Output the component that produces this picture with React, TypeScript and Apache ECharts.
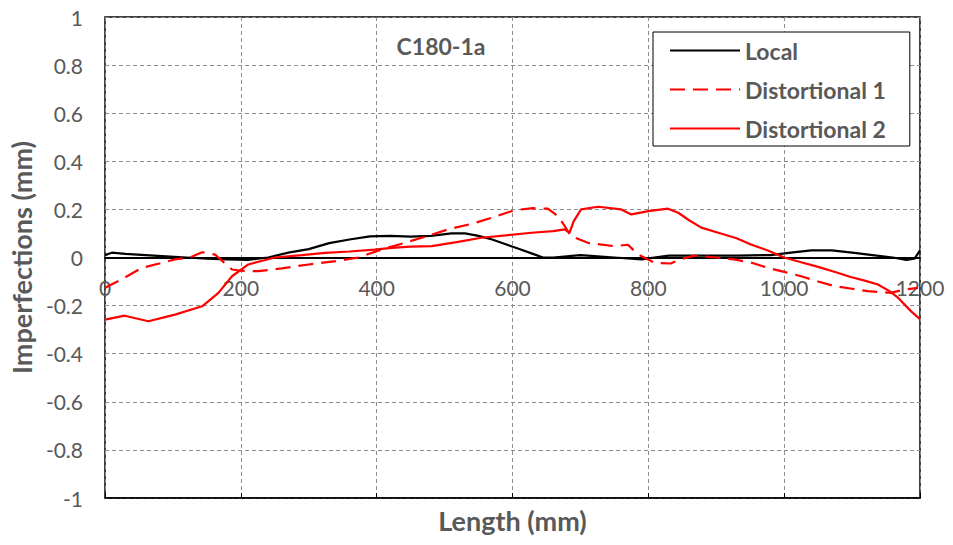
import React, { useEffect, useRef } from "react";
import * as echarts from "echarts";

const xTicks = [0, 200, 400, 600, 800, 1000, 1200];
const yTicks = [-1, -0.8, -0.6, -0.4, -0.2, 0, 0.2, 0.4, 0.6, 0.8, 1];

const localX = [0, 10, 30, 60, 90, 120, 150, 180, 210, 240, 270, 300, 330, 360, 390, 420, 450, 480, 510, 530, 550, 570, 590, 610, 630, 645, 660, 700, 750, 790, 830, 880, 930, 980, 1010, 1040, 1070, 1100, 1130, 1160, 1180, 1192, 1200];
const localY = [0.01, 0.02, 0.015, 0.01, 0.005, 0.0, -0.005, -0.008, -0.01, 0.0, 0.02, 0.035, 0.06, 0.075, 0.088, 0.09, 0.087, 0.09, 0.1, 0.1, 0.09, 0.075, 0.055, 0.035, 0.015, 0.0, 0.0, 0.01, 0.0, -0.008, 0.008, 0.008, 0.008, 0.01, 0.02, 0.03, 0.03, 0.02, 0.01, 0.0, -0.01, -0.005, 0.03];

const dist1X = [0, 25, 54, 80, 103, 125, 143, 162, 175, 187, 200, 226, 260, 300, 340, 373, 407, 440, 470, 505, 540, 569, 603, 630, 652, 667, 677, 686, 711, 750, 770, 785, 809, 833, 850, 868, 900, 926, 950, 976, 1000, 1025, 1050, 1074, 1100, 1123, 1157, 1177, 1197];
const dist1Y = [-0.126, -0.09, -0.043, -0.025, -0.008, 0.0, 0.022, 0.012, -0.02, -0.05, -0.055, -0.057, -0.045, -0.029, -0.015, 0.0, 0.033, 0.06, 0.085, 0.117, 0.14, 0.165, 0.197, 0.205, 0.203, 0.172, 0.13, 0.089, 0.061, 0.047, 0.053, 0.0125, -0.022, -0.025, -0.005, 0.008, 0.0, -0.008, -0.02, -0.043, -0.06, -0.078, -0.1, -0.119, -0.13, -0.14, -0.147, -0.133, -0.126];

const dist2X = [0, 29, 64, 103, 143, 167, 187, 211, 250, 290, 324, 360, 397, 422, 450, 481, 520, 554, 590, 628, 660, 677, 684, 690, 701, 726, 760, 775, 800, 829, 844, 860, 878, 903, 930, 951, 975, 1000, 1025, 1050, 1075, 1098, 1120, 1138, 1155, 1168, 1187, 1200];
const dist2Y = [-0.258, -0.242, -0.265, -0.2375, -0.203, -0.147, -0.078, -0.029, 0.0, 0.01, 0.019, 0.025, 0.033, 0.04, 0.045, 0.047, 0.065, 0.082, 0.092, 0.103, 0.11, 0.117, 0.103, 0.15, 0.2, 0.211, 0.2, 0.179, 0.193, 0.203, 0.186, 0.155, 0.124, 0.103, 0.08, 0.054, 0.03, 0.0, -0.02, -0.039, -0.06, -0.081, -0.097, -0.1125, -0.14, -0.168, -0.224, -0.256];

const seriesNames = ["Local", "Distortional 1", "Distortional 2"];
const chartTitle = "C180-1a";
const xName = "Length (mm)";
const yName = "Imperfections (mm)";

const zip = (xs: number[], ys: number[]) => xs.map((x, i) => [x, ys[i]]);

const FONT = "Lato, 'Open Sans', sans-serif";
const TEXT = "#595959";
const GRID = "#8c8c8c";

const GRID_TOP = 17;
const GRID_BOTTOM = 47;
const H = 545;

export default function App() {
  const ref = useRef<HTMLDivElement>(null);
  useEffect(() => {
    if (!ref.current) return;
    const chart = echarts.init(ref.current, undefined, { renderer: "svg" });
    const fmtY = (v: number) => String(parseFloat(Number(v).toFixed(1)));
    const fmtX = (v: number) => String(Math.round(Number(v)));
    const gridH = H - GRID_TOP - GRID_BOTTOM;
    const yMin = yTicks[0];
    const yMax = yTicks[yTicks.length - 1];
    const zeroOffset = -gridH * (0 - yMin) / (yMax - yMin);
    chart.setOption({
      animation: false,
      backgroundColor: "#fff",
      textStyle: { fontFamily: FONT },
      grid: {
        left: 103,
        right: 33,
        top: GRID_TOP,
        bottom: GRID_BOTTOM,
        show: true,
        borderColor: "#000",
        borderWidth: 1.5,
        containLabel: false,
      },
      graphic: [
        {
          type: "text",
          x: 441,
          y: 46,
          style: {
            text: chartTitle,
            fill: TEXT,
            font: `bold 23px ${FONT}`,
            textAlign: "center",
            textVerticalAlign: "middle",
          },
        },
      ],
      legend: {
        orient: "vertical",
        left: 653,
        top: 32,
        padding: [7, 24, 6, 16],
        itemGap: 16,
        itemWidth: 70,
        itemHeight: 20,
        backgroundColor: "#fff",
        borderColor: "#000",
        borderWidth: 1,
        itemStyle: { opacity: 0 },
        textStyle: { color: TEXT, fontSize: 23, fontWeight: "bold", fontFamily: FONT },
        data: seriesNames,
      },
      xAxis: [
        {
          type: "value",
          position: "bottom",
          offset: zeroOffset,
          min: xTicks[0],
          max: xTicks[xTicks.length - 1],
          interval: 200,
          axisLine: { show: true, onZero: false, lineStyle: { color: "#000", width: 2 } },
          axisTick: { show: false },
          axisLabel: { color: TEXT, fontSize: 21, margin: 19, showMinLabel: true, showMaxLabel: true, fontFamily: FONT, formatter: fmtX },
          splitLine: { show: true, lineStyle: { color: GRID, width: 1, type: [4, 3] } },
        },
        {
          type: "value",
          position: "bottom",
          min: xTicks[0],
          max: xTicks[xTicks.length - 1],
          interval: 200,
          axisLine: { show: true, onZero: false, lineStyle: { color: "#000", width: 1.5 } },
          axisTick: { show: true, inside: true, length: 5, lineStyle: { color: "#000", width: 1 } },
          axisLabel: { show: false },
          splitLine: { show: false },
          name: xName,
          nameLocation: "middle",
          nameGap: 9,
          nameTextStyle: { color: TEXT, fontSize: 27, fontWeight: "bold", fontFamily: FONT, verticalAlign: "top" },
        },
      ],
      yAxis: {
        type: "value",
        min: yMin,
        max: yMax,
        interval: 0.2,
        axisLine: { show: false },
        axisTick: { show: false },
        axisLabel: { color: TEXT, fontSize: 21, margin: 22, formatter: fmtY, fontFamily: FONT },
        splitLine: { show: true, lineStyle: { color: GRID, width: 1, type: [4, 3] } },
        name: yName,
        nameLocation: "middle",
        nameGap: 61,
        nameTextStyle: { color: TEXT, fontSize: 27, fontWeight: "bold", fontFamily: FONT },
      },
      series: [
        {
          name: seriesNames[0],
          type: "line",
          xAxisIndex: 0,
          data: zip(localX, localY),
          showSymbol: false,
          symbol: "none",
          color: "#000",
          lineStyle: { color: "#000", width: 2.2 },
        },
        {
          name: seriesNames[1],
          type: "line",
          xAxisIndex: 0,
          data: zip(dist1X, dist1Y),
          showSymbol: false,
          symbol: "none",
          color: "#ff0000",
          lineStyle: { color: "#ff0000", width: 2.2, type: [15, 8] },
        },
        {
          name: seriesNames[2],
          type: "line",
          xAxisIndex: 0,
          data: zip(dist2X, dist2Y),
          showSymbol: false,
          symbol: "none",
          color: "#ff0000",
          lineStyle: { color: "#ff0000", width: 2.2 },
        },
      ],
    });
    return () => chart.dispose();
  }, []);
  return <div ref={ref} style={{ position: "fixed", left: 0, top: 0, width: 953, height: 545 }} />;
}
